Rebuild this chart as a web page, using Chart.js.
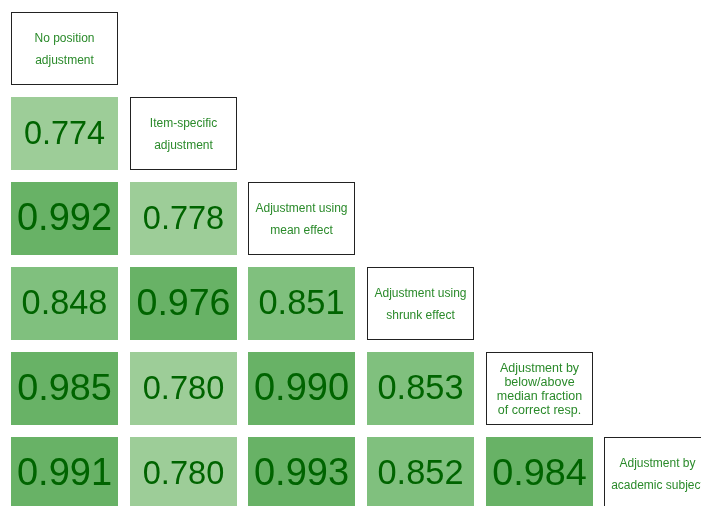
<!DOCTYPE html>
<html lang="en">
<head>
  <meta charset="UTF-8">
  <title>Correlation of position adjustments</title>
  <script src="https://cdn.jsdelivr.net/npm/chart.js"></script>
  <style>
    body { margin: 0; padding: 0; background: #fff; }
    #wrap { width: 701px; height: 506px; position: relative; }
  </style>
</head>
<body>
  <div id="wrap"><canvas id="chart"></canvas></div>
  <script>
    // diagonal labels, one entry per method (lines as drawn)
    const methodLabels = [
      ['No position', 'adjustment'],
      ['Item-specific', 'adjustment'],
      ['Adjustment using', 'mean effect'],
      ['Adjustment using', 'shrunk effect'],
      ['Adjustment by', 'below/above', 'median fraction', 'of correct resp.'],
      ['Adjustment by', 'academic subject']
    ];
    // lower triangle, row r holds correlations with methods 0..r-1
    const row1 = [0.774];
    const row2 = [0.992, 0.778];
    const row3 = [0.848, 0.976, 0.851];
    const row4 = [0.985, 0.780, 0.990, 0.853];
    const row5 = [0.991, 0.780, 0.993, 0.852, 0.984];
    const rows = [[], row1, row2, row3, row4, row5];

    const FONT = "'Liberation Sans', Arial, sans-serif";
    const cellColor = v => v < 0.8 ? '#9dcd98' : (v < 0.9 ? '#80c07e' : '#68b266');
    const valueFont = v => 32.4 + (v - 0.774) * 25.7;

    const cellPoints = [];
    rows.forEach((vals, r) => vals.forEach((v, c) => cellPoints.push({ x: c, y: r, v: v })));
    const labelPoints = methodLabels.map((lines, i) => ({ x: i, y: i, lines: lines }));

    const matrixPlugin = {
      id: 'matrix',
      afterDatasetsDraw(chart) {
        const ctx = chart.ctx;
        const xs = chart.scales.x, ys = chart.scales.y;
        const halfW = 0.4507, halfH = 0.4294;
        ctx.save();
        chart.data.datasets.forEach(ds => {
          ds.data.forEach(p => {
            const x0 = Math.round(xs.getPixelForValue(p.x - halfW));
            const x1 = Math.round(xs.getPixelForValue(p.x + halfW));
            const y0 = Math.round(ys.getPixelForValue(p.y - halfH));
            const y1 = Math.round(ys.getPixelForValue(p.y + halfH));
            const cx = (x0 + x1) / 2, cy = (y0 + y1) / 2;
            ctx.textAlign = 'center';
            ctx.textBaseline = 'middle';
            if (ds.kind === 'cell') {
              ctx.fillStyle = cellColor(p.v);
              ctx.fillRect(x0, y0, x1 - x0, y1 - y0);
              ctx.fillStyle = '#006400';
              ctx.font = valueFont(p.v).toFixed(1) + 'px ' + FONT;
              ctx.fillText(p.v.toFixed(3), cx, cy + 1.5);
            } else {
              ctx.fillStyle = '#fff';
              ctx.fillRect(x0, y0, x1 - x0, y1 - y0);
              ctx.strokeStyle = '#222';
              ctx.lineWidth = 1;
              ctx.strokeRect(x0 + 0.5, y0 + 0.5, x1 - x0 - 1, y1 - y0 - 1);
              ctx.fillStyle = '#2a8a2a';
              const n = p.lines.length;
              const step = n > 2 ? 13.8 : 22;
              ctx.font = (n > 2 ? '12.5px ' : '12px ') + FONT;
              p.lines.forEach((t, k) => {
                ctx.fillText(t, cx, cy + 1 + (k - (n - 1) / 2) * step);
              });
            }
          });
        });
        ctx.restore();
      }
    };

    new Chart(document.getElementById('chart'), {
      type: 'scatter',
      data: {
        datasets: [
          { kind: 'cell', data: cellPoints, pointRadius: 0 },
          { kind: 'label', data: labelPoints, pointRadius: 0 }
        ]
      },
      options: {
        responsive: true,
        maintainAspectRatio: false,
        animation: false,
        layout: { padding: 0 },
        plugins: { legend: { display: false }, tooltip: { enabled: false } },
        scales: {
          x: { type: 'linear', display: false, min: -0.5434, max: 5.3623 },
          y: { type: 'linear', display: false, reverse: true, min: -0.5706, max: 5.3824 }
        }
      },
      plugins: [matrixPlugin]
    });
  </script>
</body>
</html>
